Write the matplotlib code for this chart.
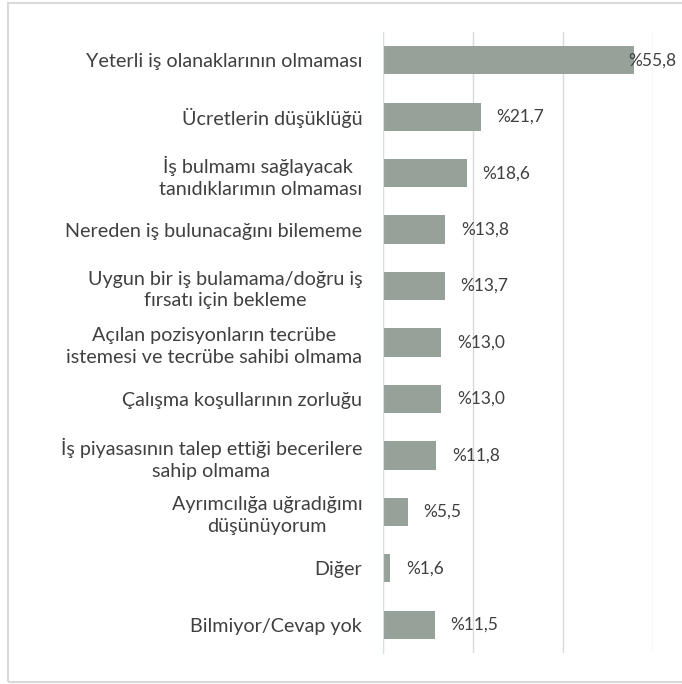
import matplotlib
matplotlib.use('Agg')
import matplotlib.pyplot as plt
from matplotlib.patches import Rectangle

plt.rcParams['font.family'] = ['Lato', 'DejaVu Sans']

labels = [
    'Yeterli iş olanaklarının olmaması',
    'Ücretlerin düşüklüğü',
    'İş bulmamı sağlayacak \ntanıdıklarımın olmaması',
    'Nereden iş bulunacağını bilememe',
    'Uygun bir iş bulamama/doğru iş\nfırsatı için bekleme',
    'Açılan pozisyonların tecrübe\nistemesi ve tecrübe sahibi olmama',
    'Çalışma koşullarının zorluğu',
    'İş piyasasının talep ettiği becerilere\nsahip olmama',
    'Ayrımcılığa uğradığımı\ndüşünüyorum',
    'Diğer',
    'Bilmiyor/Cevap yok',
]
values = [55.8, 21.7, 18.6, 13.8, 13.7, 13.0, 13.0, 11.8, 5.5, 1.6, 11.5]

bar_color = '#95a199'
text_color = '#404040'

fig = plt.figure(figsize=(6.82, 6.84), dpi=100)
ax = fig.add_axes([383/682, 1 - 653/684, 270/682, 621/684])

# chart border like excel
fig.patches.append(Rectangle((8/682, 2/684), 1, 679/684, transform=fig.transFigure,
                             fill=False, edgecolor='#d9d9d9', linewidth=1.5))

y = list(range(len(labels)))
ax.barh(y, values, height=0.5, color=bar_color, zorder=3)
ax.set_ylim(len(labels) - 0.5, -0.5)
ax.set_xlim(0, 60)
ax.set_xticks([0, 20, 40, 60])
ax.xaxis.grid(True, color='#d9d9d9', linewidth=1, zorder=0)
ax.tick_params(axis='x', bottom=False, labelbottom=False)
ax.tick_params(axis='y', length=0, pad=15, labelsize=14.2, labelcolor=text_color)
ax.set_yticks(y)
ax.set_yticklabels(labels)
for t in ax.get_yticklabels():
    t.set_multialignment('center')
    t.set_linespacing(1.35)
for s in ['top', 'right', 'bottom']:
    ax.spines[s].set_visible(False)
ax.spines['left'].set_color('#d6e3e3')
ax.spines['left'].set_zorder(4)

vmax = max(values)
for i, v in enumerate(values):
    txt = '%' + f'{v:.1f}'.replace('.', ',')
    off = -4 if v == vmax else 11.5
    ax.annotate(txt, (v, i), xytext=(off, 0), textcoords='offset points',
                va='center', ha='left', fontsize=12.5, color=text_color)

fig.savefig('out.png', dpi=100)
